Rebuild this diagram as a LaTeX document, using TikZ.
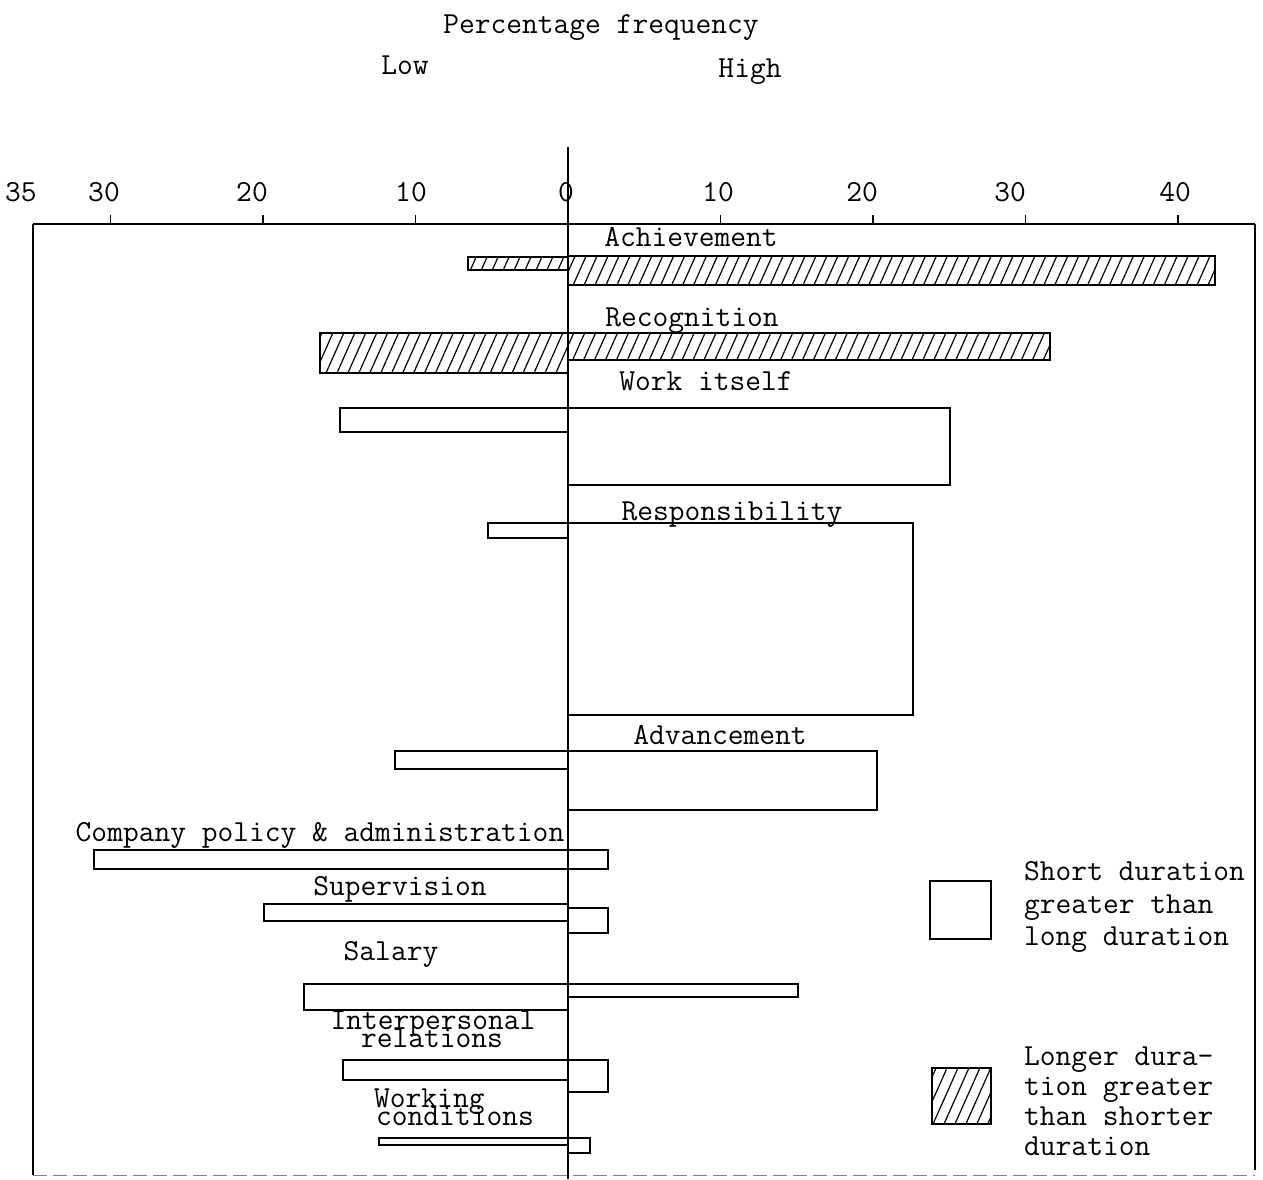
\documentclass[tikz,border=0pt]{standalone}
\usetikzlibrary{patterns.meta}
\begin{document}
\begin{tikzpicture}[x=1pt,y=-1pt,
  lbl/.style={font=\ttfamily\fontsize{30.6}{32}\selectfont, inner sep=0pt, anchor=mid, yshift=-6pt},
  leg/.style={font=\ttfamily\fontsize{30.6}{32}\selectfont, inner sep=0pt, anchor=mid west, yshift=-6pt},
  frame/.style={line width=1.5pt},
  tick/.style={line width=1.3pt},
  bar/.style={draw, line width=2pt},
  hbar/.style={draw, line width=2pt, pattern={Lines[angle=66,distance=10pt,line width=1.2pt]}},
]
\useasboundingbox (0,0) rectangle (1263,1179);

% headings
\node[lbl] (title) at (601,25) {Percentage frequency};
\node[lbl] (low)   at (405,66) {Low};
\node[lbl] (high)  at (750,69) {High};

% frame
\draw[frame] (33,224) -- (1255,224);
\draw[frame] (33,224) -- (33,1175);
\draw[frame] (1255,224) -- (1255,1170);
\draw[line width=1pt, gray, dash pattern=on 14pt off 6pt] (33,1175) -- (1255,1175);

% scale: 0 at x=568, 15.25 units per percent
\foreach \v/\lab/\lx in {-30/30/104, -20/20/252, -10/10/411, 10/10/718, 20/20/862, 30/30/1010, 40/40/1175}{
  \draw[tick] ({568+15.25*\v},215) -- ({568+15.25*\v},224);
  \node[lbl] at (\lx,193) {\lab};
}
\node[lbl] (t35) at (21,193) {35};
\node[lbl] (t0)  at (566,193) {0};

% zero axis
\draw[line width=1.8pt] (568,147) -- (568,1179);

% Achievement
\node[lbl] (ach) at (691,238) {Achievement};
\draw[hbar] (468,257) rectangle (568,270);
\draw[hbar] (568,256) rectangle (1215,285);

% Recognition
\node[lbl] (rec) at (692,318) {Recognition};
\draw[hbar] (320,333) rectangle (568,373);
\draw[hbar] (568,333) rectangle (1050,360);

% Work itself
\node[lbl] (work) at (706,382) {Work itself};
\draw[bar] (340,408) rectangle (568,432);
\draw[bar] (568,408) rectangle (950,485);

% Responsibility
\node[lbl] (resp) at (732,512) {Responsibility};
\draw[bar] (488,523) rectangle (568,538);
\draw[bar] (568,523) rectangle (913,715);

% Advancement
\node[lbl] (adv) at (720,736) {Advancement};
\draw[bar] (395,751) rectangle (568,769);
\draw[bar] (568,751) rectangle (877,810);

% Company policy & administration
\node[lbl] (comp) at (320,833) {Company policy \& administration};
\draw[bar] (94,850) rectangle (568,869);
\draw[bar] (568,850) rectangle (608,869);

% Supervision
\node[lbl] (sup) at (400,887) {Supervision};
\draw[bar] (264,904) rectangle (568,921);
\draw[bar] (568,908) rectangle (608,933);

% Salary
\node[lbl] (sal) at (391,952) {Salary};
\draw[bar] (304,984) rectangle (568,1010);
\draw[bar] (568,984) rectangle (798,997);

% Interpersonal relations (typed with a half line feed)
\node[lbl] (ip1) at (433,1021) {Interpersonal};
\node[lbl] (ip2) at (432,1039) {relations};
\draw[bar] (343,1060) rectangle (568,1080);
\draw[bar] (568,1060) rectangle (608,1092);

% Working conditions
\node[lbl, anchor=mid west] (wc1) at (374,1099) {Working};
\node[lbl, anchor=mid west] (wc2) at (376,1117) {conditions};
\draw[bar] (379,1138) rectangle (568,1145);
\draw[bar] (568,1138) rectangle (590,1153);

% legend
\draw[bar] (930,881) rectangle (991,939);
\draw[hbar, line width=1.5pt] (932,1068) rectangle (991,1124);
\node[leg] (s1) at (1024,872) {Short duration};
\node[leg] (s2) at (1024,905) {greater than};
\node[leg] (s3) at (1024,937) {long duration};
\node[leg] (l1) at (1024,1057) {Longer dura-};
\node[leg] (l2) at (1024,1087) {tion greater};
\node[leg] (l3) at (1024,1117) {than shorter};
\node[leg] (l4) at (1024,1147) {duration};
\end{tikzpicture}
\end{document}
